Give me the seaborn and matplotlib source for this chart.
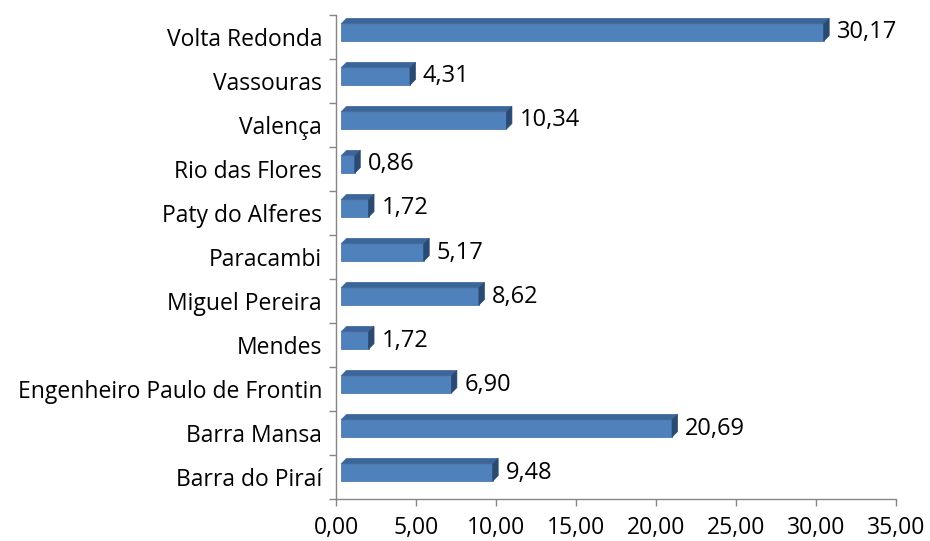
import pandas as pd
import matplotlib.pyplot as plt
import matplotlib.transforms as mtransforms
from matplotlib.patches import Polygon
from matplotlib.ticker import FixedLocator
import seaborn as sns

# Dados (de cima para baixo, como no gráfico)
municipios = ['Volta Redonda', 'Vassouras', 'Valença', 'Rio das Flores',
              'Paty do Alferes', 'Paracambi', 'Miguel Pereira', 'Mendes',
              'Engenheiro Paulo de Frontin', 'Barra Mansa', 'Barra do Piraí']
valores = [30.17, 4.31, 10.34, 0.86, 1.72, 5.17, 8.62, 1.72, 6.90, 20.69, 9.48]
x_ticks = [0, 5, 10, 15, 20, 25, 30, 35]

COR_FRENTE = '#4F81BD'
COR_TOPO = '#3C6599'
COR_LADO = '#2A4A72'
COR_EIXO = '#868686'


def fmt(v):
    return f'{v:.2f}'.replace('.', ',')


def main():
    sns.set_theme(style='white')
    plt.rcParams['font.family'] = ['Open Sans', 'DejaVu Sans']

    df = pd.DataFrame({'municipio': municipios, 'valor': valores})

    fig, ax = plt.subplots(figsize=(9.3, 5.41), dpi=100)
    fig.subplots_adjust(left=0.3613, right=0.9634, bottom=0.0776, top=0.9723)

    sns.barplot(data=df, x='valor', y='municipio', orient='h', color=COR_FRENTE,
                saturation=1, width=0.39, ax=ax)
    ax.set_xlim(0, 35)
    ax.set_ylim(len(municipios) - 0.5, -0.5)

    # efeito 3D: desloca a face frontal e desenha topo e lateral
    desloc = mtransforms.Affine2D().translate(5, 4.5)
    trans = ax.transData + desloc
    p0 = ax.transData.transform((0, 0))
    p1 = ax.transData.transform((1, 1))
    prof = 5.5
    ddx = prof / (p1[0] - p0[0])
    ddy = prof / (p1[1] - p0[1])

    for p in ax.patches:
        x0, y0 = p.get_x(), p.get_y()
        w, h = p.get_width(), p.get_height()
        p.set_transform(trans)
        p.set_edgecolor('#3E6CA5')
        p.set_linewidth(0.5)
        topo = Polygon([(x0, y0), (x0 + w, y0), (x0 + w + ddx, y0 + ddy), (x0 + ddx, y0 + ddy)],
                       closed=True, facecolor=COR_TOPO, edgecolor=COR_TOPO, lw=0.5,
                       transform=trans)
        lado = Polygon([(x0 + w, y0), (x0 + w, y0 + h), (x0 + w + ddx, y0 + h + ddy),
                        (x0 + w + ddx, y0 + ddy)],
                       closed=True, facecolor=COR_LADO, edgecolor=COR_LADO, lw=0.5,
                       transform=trans)
        ax.add_patch(topo)
        ax.add_patch(lado)

    # rótulos de valor
    for i, v in enumerate(valores):
        ax.annotate(fmt(v), xy=(v, i), xytext=(18, 4.5), textcoords='offset pixels',
                    ha='left', va='center', fontsize=17, color='black')

    # eixos
    sns.despine(ax=ax, top=True, right=True)
    for s in ('left', 'bottom'):
        ax.spines[s].set_color(COR_EIXO)
        ax.spines[s].set_linewidth(1)

    ax.set_xticks(x_ticks)
    ax.set_xticklabels([fmt(t) for t in x_ticks])
    ax.tick_params(axis='x', which='major', bottom=True, length=5, width=1,
                   color=COR_EIXO, labelsize=16.5, pad=7, labelcolor='black')
    ax.tick_params(axis='y', which='major', left=False, length=0, labelsize=16.5,
                   pad=10, labelcolor='black')
    ax.yaxis.set_minor_locator(FixedLocator([i - 0.5 for i in range(len(municipios) + 1)]))
    ax.tick_params(axis='y', which='minor', left=True, length=5, width=1, color=COR_EIXO)

    ax.set_xlabel('')
    ax.set_ylabel('')
    ax.grid(False)

    plt.savefig('out.png', dpi=100)


if __name__ == '__main__':
    main()
